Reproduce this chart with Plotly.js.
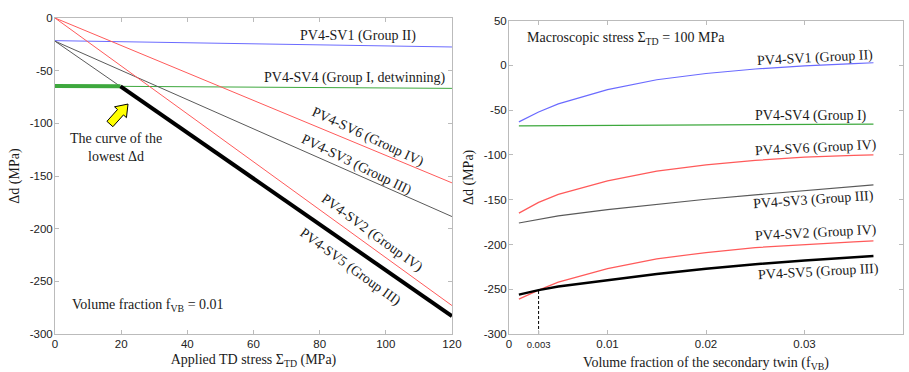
<!DOCTYPE html>
<html><head><meta charset="utf-8">
<script src="https://cdn.plot.ly/plotly-3.0.1.min.js"></script>
<style>body{margin:0;background:#fff}#c{width:909px;height:372px}</style>
</head><body><div id="c"></div>
<script>
// ---- Left panel: Δd vs applied TD stress (f_VB = 0.01)
const stressX = [0, 120];
const sv1L = [-21.5, -27.5];
const sv4L = [-64.5, -66.8];
const sv6L = [0, -156.5];
const sv3L = [-22, -188.5];
const sv2L = [0, -273];
const sv5L = [-22, -283];
const lowestX = [0, 19.8, 120];
const lowestY = [-64.5, -64.9, -283];

// ---- Right panel: Δd vs volume fraction of secondary twin (Σ_TD = 100 MPa)
const fracX = [0.001, 0.003, 0.005, 0.01, 0.015, 0.02, 0.025, 0.03, 0.035, 0.037];
const sv1R = [-63, -52, -43, -27, -16, -9, -4, -0.5, 2, 3];
const sv4R = [-67.5, -67.4, -67.3, -67.1, -66.9, -66.6, -66.3, -66, -65.7, -65.6];
const sv6R = [-165, -153, -144, -129, -118, -111, -106, -102.5, -100.5, -100];
const sv3R = [-176, -172, -168, -161, -155, -149.5, -144.5, -140, -135.5, -133.5];
const sv2R = [-261, -251, -242, -227, -216, -209, -203.5, -200, -197, -196];
const sv5R = [-256, -251, -247, -240, -233, -227, -222, -218, -214.5, -213];
const crossX = [0.003, 0.003];
const crossY = [-300, -251];

const leftYTicks = [0, -50, -100, -150, -200, -250, -300];
const leftYText = ['0', '-50', '-100', '-150', '-200', '-250', '-300'];
const leftXTicks = [0, 20, 40, 60, 80, 100, 120];
const rightYTicks = [50, 0, -50, -100, -150, -200, -250, -300];
const rightYText = ['50', '0', '-50', '-100', '-150', '-200', '-250', '-300'];
const rightXTicks = [0, 0.003, 0.01, 0.02, 0.03, 0.04];
const rightXText = ['0', '<span style="font-size:9.5px">0.003</span>', '0.01', '0.02', '0.03', '0.04'];

const BLUE = '#6b6bff', RED = '#ff5a5a', GRAY = '#5a5a5a', GREEN = '#3da83d', BLACK = '#000';
function ln(x, y, color, width, ax, extra) {
  return Object.assign({x, y, type: 'scatter', mode: 'lines', line: {color, width},
    xaxis: ax === 2 ? 'x2' : 'x', yaxis: ax === 2 ? 'y2' : 'y', hoverinfo: 'skip'}, extra || {});
}
const traces = [
  ln(stressX, sv1L, BLUE, 1, 1),
  ln(stressX, sv4L, GREEN, 1, 1),
  ln(stressX, sv6L, RED, 1, 1),
  ln(stressX, sv3L, GRAY, 1, 1),
  ln(stressX, sv2L, RED, 1, 1),
  ln(stressX, sv5L, GRAY, 1, 1),
  ln(lowestX.slice(0, 2), lowestY.slice(0, 2), GREEN, 4, 1),
  ln(lowestX.slice(1), lowestY.slice(1), BLACK, 4, 1),
  ln(fracX, sv1R, BLUE, 1.2, 2),
  ln(fracX, sv4R, GREEN, 1.2, 2),
  ln(fracX, sv6R, RED, 1.2, 2),
  ln(fracX, sv3R, GRAY, 1.2, 2),
  ln(fracX, sv2R, RED, 1.2, 2),
  ln(fracX, sv5R, BLACK, 2.5, 2),
  ln(crossX, crossY, BLACK, 1, 2, {line: {color: BLACK, width: 1, dash: '3px,2px'}})
];

const tickFont = {family: 'Liberation Sans, Arial, sans-serif', size: 11.5, color: '#222'};
const serif = 'Liberation Serif, Times New Roman, serif';
const axBase = {showgrid: false, zeroline: false, showline: true, linecolor: '#bbb', linewidth: 1,
  mirror: 'ticks', ticks: 'inside', ticklen: 4, tickcolor: '#bbb', tickfont: tickFont, ticklabelstandoff: -1};

function ann(text, x, y, angle, ax, extra) {
  return Object.assign({text, x, y, textangle: angle, showarrow: false,
    xref: ax === 2 ? 'x2' : 'x', yref: ax === 2 ? 'y2' : 'y',
    font: {family: serif, size: 14, color: '#1a1a1a'}}, extra || {});
}

const annotations = [
  ann('PV4-SV1 (Group II)', 91.6, -17.1, 0, 1),
  ann('PV4-SV4 (Group I, detwinning)', 90.7, -57, 0, 1),
  ann('PV4-SV6 (Group IV)', 94.6, -113, 25, 1),
  ann('PV4-SV3 (Group III)', 91.2, -139.6, 26, 1),
  ann('PV4-SV2 (Group IV)', 95.7, -204.4, 36, 1),
  ann('PV4-SV5 (Group III)', 89.2, -236.1, 36, 1),
  ann('The curve of the<br>lowest Δd', 18.35, -123.4, 0, 1),
  ann('Volume fraction f<sub>VB</sub> = 0.01', 4.5, -273.4, 0, 1, {xanchor: 'left'}),
  ann('Macroscopic stress Σ<sub>TD</sub> = 100 MPa', 0.0016, 29.6, 0, 2, {xanchor: 'left'}),
  ann('PV4-SV1 (Group II)', 0.0311, 8.3, -3, 2),
  ann('PV4-SV4 (Group I)', 0.0307, -56.1, 0, 2),
  ann('PV4-SV6 (Group IV)', 0.0312, -92.2, -3, 2),
  ann('PV4-SV3 (Group III)', 0.0309, -150.3, -4, 2),
  ann('PV4-SV2 (Group IV)', 0.0312, -187.5, -3, 2),
  ann('PV4-SV5 (Group III)', 0.0314, -230.4, -3, 2)
];

const titleFont = {family: serif, size: 14, color: '#1a1a1a'};
const layout = {
  width: 909, height: 372, showlegend: false,
  paper_bgcolor: '#fff', plot_bgcolor: '#fff',
  margin: {l: 0, r: 0, t: 18, b: 38},
  xaxis: Object.assign({}, axBase, {domain: [0.0605, 0.4972], range: [0, 120], tickvals: leftXTicks,
    title: {text: 'Applied TD stress Σ<sub>TD</sub> (MPa)', font: titleFont, standoff: 5}}),
  yaxis: Object.assign({}, axBase, {domain: [0, 1], range: [-300, 0], tickvals: leftYTicks, ticktext: leftYText,
    title: {text: 'Δd (MPa)', font: titleFont, standoff: 6}}),
  xaxis2: Object.assign({}, axBase, {anchor: 'y2', domain: [0.56, 0.9934], range: [0, 0.04],
    tickvals: rightXTicks, ticktext: rightXText,
    title: {text: 'Volume fraction of the secondary twin (f<sub>VB</sub>)', font: titleFont, standoff: 9}}),
  yaxis2: Object.assign({}, axBase, {anchor: 'x2', domain: [0, 0.9915], range: [-300, 50],
    tickvals: rightYTicks, ticktext: rightYText,
    title: {text: 'Δd (MPa)', font: titleFont, standoff: 6}}),
  annotations,
  shapes: [{
    type: 'path', xref: 'x', yref: 'y',
    path: 'M22.07,-81.7 L21.6,-94.6 L20.7,-92.0 L17.5,-103.2 L15.7,-98.1 L18.9,-86.9 L18.0,-84.3 Z',
    fillcolor: '#ffff00', line: {color: '#000', width: 1}
  }]
};

Plotly.newPlot('c', traces, layout, {displayModeBar: false, staticPlot: true});
</script>
</body></html>
